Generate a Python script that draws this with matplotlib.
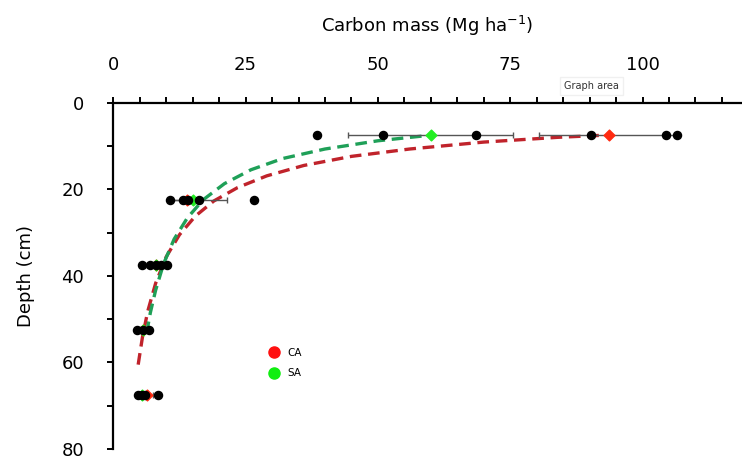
import numpy as np
import matplotlib
matplotlib.use("Agg")
import matplotlib.pyplot as plt
from matplotlib.lines import Line2D

# --- data ------------------------------------------------------------------
depths = [7.5, 22.5, 37.5, 52.5, 67.5]

# individual samples (black dots), one list per depth layer
samples = {
    7.5: [38.4, 50.9, 68.6, 90.2, 104.4, 106.6],
    22.5: [10.7, 13.2, 14.2, 16.1, 26.6],
    37.5: [5.4, 7.0, 8.0, 9.0, 10.1],
    52.5: [4.4, 5.7, 6.8],
    67.5: [4.6, 5.4, 6.0, 8.5],
}

# treatment means and error (Mg ha-1), lower / upper
ca_mean = [93.6, 14.0, 8.0, 5.7, 6.3]
ca_err_lo = [13.2, 3.0, 1.5, 1.0, 1.2]
ca_err_hi = [13.2, 2.0, 1.5, 1.0, 1.2]
sa_mean = [60.0, 15.0, 8.0, 5.7, 5.5]
sa_err_lo = [15.6, 4.0, 1.5, 1.0, 0.8]
sa_err_hi = [15.6, 6.5, 1.5, 1.0, 0.8]

# fitted curves, read as (mass, depth) pairs
ca_fit_x = [4.7, 5.5, 6.5, 8.0, 10.0, 12.5, 15.5, 19.0, 23.5, 29.0, 36.0, 45.0, 56.0, 70.0, 84.0, 93.0]
ca_fit_y = [60.5, 54.2, 48.2, 41.7, 35.6, 30.5, 26.2, 22.7, 19.6, 16.9, 14.5, 12.4, 10.7, 9.1, 8.0, 7.5]
sa_fit_x = [6.3, 7.0, 8.0, 9.5, 11.5, 14.0, 17.0, 21.0, 26.0, 32.0, 40.0, 50.0, 60.0]
sa_fit_y = [53.2, 48.5, 43.3, 37.2, 31.5, 26.6, 22.4, 18.7, 15.5, 12.9, 10.7, 8.8, 7.5]

xticks = np.arange(0, 120, 5)
yticks = np.arange(0, 90, 10)

# --- plot ------------------------------------------------------------------
plt.rcParams["font.family"] = "DejaVu Sans"

fig = plt.figure(figsize=(7.42, 4.59), dpi=100)
ax = fig.add_axes([0.1527, 0.0216, 0.8473, 0.7547])

# fitted curves
ax.plot(ca_fit_x, ca_fit_y, color="#c0232b", lw=2.4, ls=(0, (3.5, 2)), zorder=2)
ax.plot(sa_fit_x, sa_fit_y, color="#1fa058", lw=2.4, ls=(0, (3.5, 2)), zorder=2)

# means with error bars
ax.errorbar(ca_mean, depths, xerr=[ca_err_lo, ca_err_hi], fmt="none",
            ecolor="#555555", elinewidth=1, capsize=2, zorder=3)
ax.errorbar(sa_mean, depths, xerr=[sa_err_lo, sa_err_hi], fmt="none",
            ecolor="#555555", elinewidth=1, capsize=2, zorder=3)
ax.scatter(ca_mean, depths, marker="D", s=30, color="#ff2a10", zorder=4)
ax.scatter(sa_mean, depths, marker="D", s=30, color="#22ee22", zorder=4)

# individual samples
for d, vals in samples.items():
    ax.scatter(vals, [d] * len(vals), s=34, color="black", zorder=5)

ax.set_xlim(0, 118.8)
ax.set_ylim(80, 0)

ax.xaxis.tick_top()
ax.xaxis.set_label_position("top")
ax.set_xticks(xticks)
ax.set_xticklabels([str(int(t)) if t % 25 == 0 else "" for t in xticks])
ax.set_yticks(yticks)
ax.set_yticklabels([str(int(t)) if t % 20 == 0 else "" for t in yticks])

ax.tick_params(axis="both", direction="out", length=4, width=1.4,
               labelsize=13, pad=17, colors="black")
ax.set_xlabel("Carbon mass (Mg ha$^{-1}$)", fontsize=13, labelpad=17)
ax.set_ylabel("Depth (cm)", fontsize=13, labelpad=19)

for side in ["right", "bottom"]:
    ax.spines[side].set_visible(False)
for side in ["top", "left"]:
    ax.spines[side].set_linewidth(1.6)

ax.text(90.4, -3.9, "Graph area", fontsize=7, color="#333333", ha="center",
        va="center", clip_on=False, zorder=10,
        bbox=dict(facecolor="white", edgecolor="#f0f0f0", pad=3))

handles = [
    Line2D([], [], marker="o", ls="none", color="#ff1010", markersize=8, label="CA"),
    Line2D([], [], marker="o", ls="none", color="#10ee10", markersize=8, label="SA"),
]
fig.legend(handles=handles, loc="center left", bbox_to_anchor=(0.35, 0.209),
           frameon=False, fontsize=7.5, handlelength=1, handletextpad=0.8,
           labelspacing=1.0)

fig.savefig("out.png", dpi=100)
